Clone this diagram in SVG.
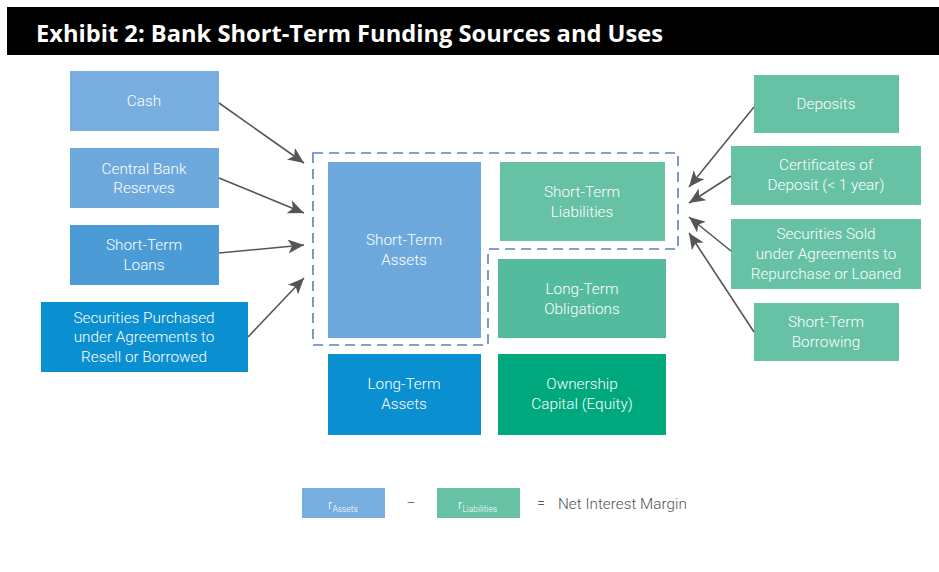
<svg xmlns="http://www.w3.org/2000/svg" width="939" height="572" viewBox="0 0 939 572">
<style>
.t{font-family:Roboto,"Liberation Sans",sans-serif;font-size:15.3px;font-weight:300;fill:#fff;text-anchor:middle}
.c{stroke:#555;stroke-width:1.6;fill:none}
.d{stroke:#5F7DC0;stroke-width:1.6;fill:none;stroke-dasharray:10 6}
.blue1{fill:#77ADDF}.blue2{fill:#6DA9DC}.blue3{fill:#4A9BD6}.blue4{fill:#0A90D0}
.green1{fill:#66C1A5}.green2{fill:#55BB9E}.green3{fill:#00A87E}
.f{font-family:Roboto,"Liberation Sans",sans-serif;font-weight:300}
</style>
<defs>
<marker id="ah" markerUnits="userSpaceOnUse" markerWidth="18" markerHeight="14" refX="16" refY="7" orient="auto">
<path d="M0,0 L16,7 L0,14 L4,7 z" fill="#555"/>
</marker>
</defs>
<rect x="0" y="0" width="939" height="572" fill="#fff"/>
<g id="title">
<rect x="7" y="7" width="932" height="48" fill="#000"/>
<text x="36" y="42" font-family="'Open Sans','Liberation Sans',sans-serif" font-weight="bold" font-size="23" fill="#fff" textLength="627" lengthAdjust="spacingAndGlyphs">Exhibit 2: Bank Short-Term Funding Sources and Uses</text>
</g>
<g id="group-box">
<path class="d" d="M313,153 H678 V249 H488 V345 H313 Z"/>
</g>
<g id="cash"><rect class="blue1" x="70" y="71" width="149" height="60"/><text class="t" x="144" y="106">Cash</text></g>
<g id="central-bank"><rect class="blue2" x="70" y="148" width="149" height="60"/><text class="t" x="144" y="174">Central Bank</text><text class="t" x="144" y="193">Reserves</text></g>
<g id="st-loans"><rect class="blue3" x="70" y="225" width="149" height="60"/><text class="t" x="144" y="250">Short-Term</text><text class="t" x="144" y="270">Loans</text></g>
<g id="sec-purchased"><rect class="blue4" x="41" y="302" width="207" height="70"/><text class="t" x="144" y="323">Securities Purchased</text><text class="t" x="144" y="342">under Agreements to</text><text class="t" x="144" y="362">Resell or Borrowed</text></g>
<g id="st-assets"><rect class="blue2" x="328" y="162" width="153" height="176"/><text class="t" x="404" y="245">Short-Term</text><text class="t" x="404" y="265">Assets</text></g>
<g id="lt-assets"><rect class="blue4" x="328" y="354" width="153" height="81"/><text class="t" x="404" y="389">Long-Term</text><text class="t" x="404" y="409">Assets</text></g>
<g id="st-liabilities"><rect class="green1" x="500" y="162" width="165" height="79"/><text class="t" x="582" y="197">Short-Term</text><text class="t" x="582" y="217">Liabilities</text></g>
<g id="lt-obligations"><rect class="green2" x="498" y="259" width="168" height="79"/><text class="t" x="582" y="294">Long-Term</text><text class="t" x="582" y="314">Obligations</text></g>
<g id="equity"><rect class="green3" x="498" y="354" width="168" height="81"/><text class="t" x="582" y="389">Ownership</text><text class="t" x="582" y="409">Capital (Equity)</text></g>
<g id="deposits"><rect class="green1" x="754" y="75" width="145" height="58"/><text class="t" x="826" y="109">Deposits</text></g>
<g id="cds"><rect class="green1" x="731" y="146" width="190" height="59"/><text class="t" x="826" y="170">Certificates of</text><text class="t" x="826" y="190">Deposit (&lt; 1 year)</text></g>
<g id="sec-sold"><rect class="green1" x="731" y="219" width="190" height="70"/><text class="t" x="826" y="239">Securities Sold</text><text class="t" x="826" y="259">under Agreements to</text><text class="t" x="826" y="279">Repurchase or Loaned</text></g>
<g id="st-borrowing"><rect class="green1" x="754" y="303" width="145" height="58"/><text class="t" x="826" y="327">Short-Term</text><text class="t" x="826" y="347">Borrowing</text></g>
<g id="connectors">
<line class="c" x1="219" y1="103" x2="304" y2="163" marker-end="url(#ah)"/>
<line class="c" x1="219" y1="178" x2="304" y2="213" marker-end="url(#ah)"/>
<line class="c" x1="219" y1="253" x2="304" y2="245" marker-end="url(#ah)"/>
<line class="c" x1="248" y1="337" x2="304" y2="278" marker-end="url(#ah)"/>
<line class="c" x1="754" y1="107" x2="689" y2="187" marker-end="url(#ah)"/>
<line class="c" x1="731" y1="176" x2="689" y2="203" marker-end="url(#ah)"/>
<line class="c" x1="731" y1="251" x2="689" y2="217" marker-end="url(#ah)"/>
<line class="c" x1="754" y1="332" x2="689" y2="233" marker-end="url(#ah)"/>
</g>
<g id="formula">
<rect class="blue1" x="302" y="488" width="83" height="30"/>
<text class="f" x="328" y="509" font-size="13" fill="#fff">r<tspan font-size="8.5" dy="3">Assets</tspan></text>
<text class="f" x="411" y="508" font-size="14" fill="#555" text-anchor="middle">–</text>
<rect class="green1" x="437" y="488" width="83" height="30"/>
<text class="f" x="458" y="509" font-size="13" fill="#fff">r<tspan font-size="8.5" dy="3">Liabilities</tspan></text>
<text class="f" x="541" y="508" font-size="14" fill="#555" text-anchor="middle">=</text>
<text class="f" x="558" y="509" font-size="15.3" fill="#555">Net Interest Margin</text>
</g>
</svg>
